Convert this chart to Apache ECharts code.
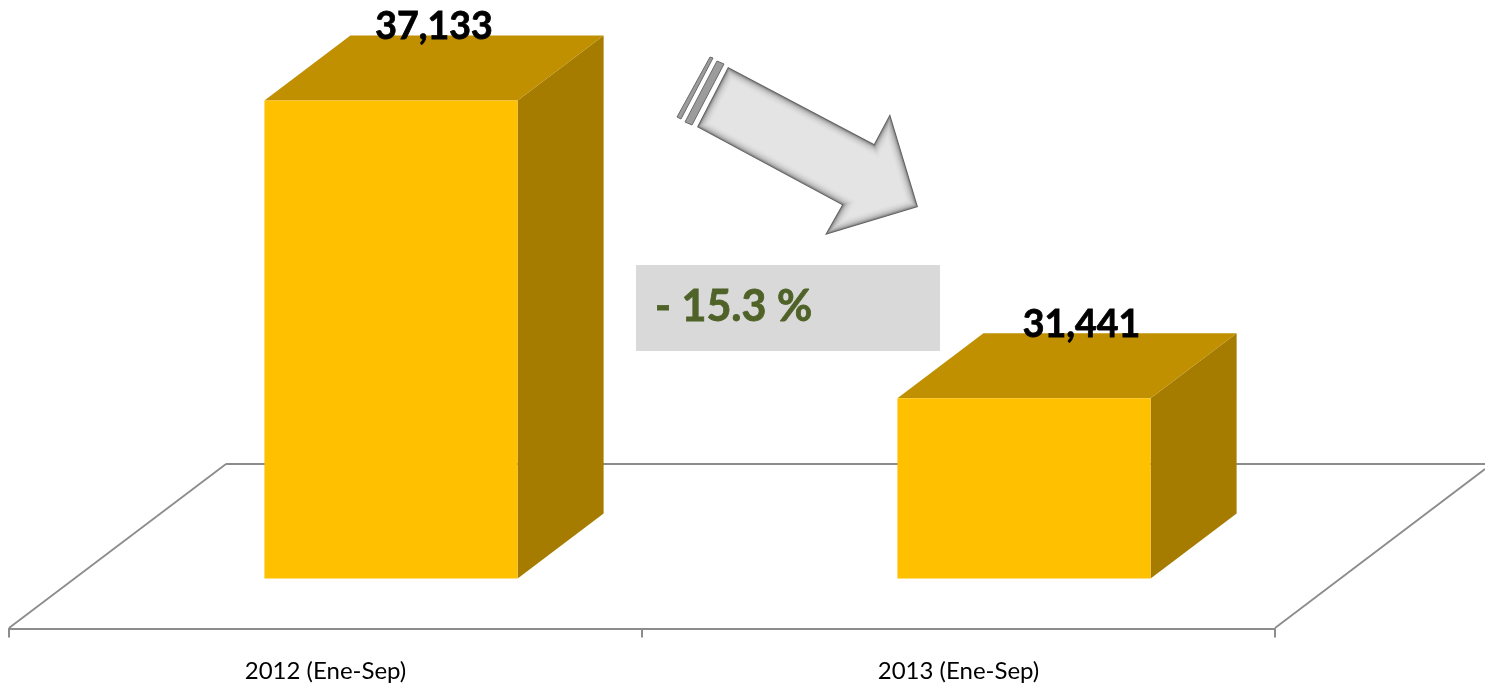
<!DOCTYPE html>
<html><head><meta charset="utf-8">
<style>html,body{margin:0;padding:0;background:#fff}#c{width:1485px;height:684px}</style>
<script src="https://cdn.jsdelivr.net/npm/echarts@6/dist/echarts.min.js"></script>
</head><body><div id="c"></div>
<script>
const categories = ['2012 (Ene-Sep)', '2013 (Ene-Sep)'];
const values = [37133, 31441];
const changeLabel = '- 15.3 %';
const yMin = 28000, yMax = 38000;

const DEPTH_X = 86, DEPTH_Y = 65;
const AXIS_COLOR = '#8c8c8c';

const chart = echarts.init(document.getElementById('c'), null, {renderer: 'canvas'});

function renderBar(params, api) {
  const cat = api.value(0), val = api.value(1);
  const top = api.coord([cat, val]);
  const base = api.coord([cat, yMin]);
  const band = api.size([1, 0])[0];
  const w = band * 0.4;
  const cx = top[0] + band * 0.1035;
  const l = cx - w / 2, r = cx + w / 2, t = top[1], b = base[1];
  const dx = DEPTH_X, dy = DEPTH_Y;
  const labelShift = params.dataIndex === 1 ? 14.5 : 0;
  return {type: 'group', children: [
    {type: 'polygon', shape: {points: [[r, t], [r + dx, t - dy], [r + dx, b - dy], [r, b]]}, style: {fill: '#a67c00'}},
    {type: 'polygon', shape: {points: [[l, t], [l + dx, t - dy], [r + dx, t - dy], [r, t]]}, style: {fill: '#c09000'}},
    {type: 'rect', shape: {x: l, y: t, width: w, height: b - t}, style: {fill: '#ffc000'}},
    {type: 'text', style: {
      text: val.toLocaleString('en-US'), x: cx + dx / 2 + labelShift, y: t - dy - 8,
      align: 'center', verticalAlign: 'middle', fill: '#000',
      stroke: '#000', lineWidth: 0.8,
      font: 'bold 37.5px Lato'
    }, z2: 10}
  ]};
}

// Inset outline of a closed polygon, used for the bevelled arrow
function inset(pts, d) {
  const n = pts.length;
  let area = 0;
  pts.forEach((p, i) => { const q = pts[(i + 1) % n]; area += p[0] * q[1] - q[0] * p[1]; });
  const s = area > 0 ? 1 : -1;
  return pts.map((p, i) => {
    const a = pts[(i + n - 1) % n], c = pts[(i + 1) % n];
    const u = [p[0] - a[0], p[1] - a[1]], v = [c[0] - p[0], c[1] - p[1]];
    const lu = Math.hypot(u[0], u[1]), lv = Math.hypot(v[0], v[1]);
    const n1 = [-u[1] / lu * s, u[0] / lu * s], n2 = [-v[1] / lv * s, v[0] / lv * s];
    const k = 1 + n1[0] * n2[0] + n1[1] * n2[1];
    return [p[0] + d * (n1[0] + n2[0]) / k, p[1] + d * (n1[1] + n2[1]) / k];
  });
}

const arrow = [[728,67],[874,144],[890,114],[918,207],[825,235],[842,205],[697,127]];
const bevel = ['#5e5e5e','#8a8a8a','#a6a6a6','#b6b6b6','#c2c2c2','#cbcbcb','#d2d2d2','#d8d8d8','#dcdcdc','#e0e0e0','#e2e2e2','#e4e4e4'];
const arrowLayers = bevel.map((col, i) => ({
  type: 'polygon', z: 5, shape: {points: inset(arrow, i * 0.9)}, style: {fill: col}
}));

const floor = [
  [[9,628],[226,464]],
  [[226,464],[1485,464]],
  [[1275,628],[1485,469]]
].map(p => ({type: 'polyline', z: 0, shape: {points: p}, style: {stroke: AXIS_COLOR, lineWidth: 1.8, fill: null}}));

chart.setOption({
  backgroundColor: '#fff',
  animation: false,
  grid: {left: 9, width: 1266, top: 55, height: 523.5},
  xAxis: {
    type: 'category', data: categories, offset: 50,
    axisLine: {show: true, lineStyle: {color: AXIS_COLOR, width: 2}},
    axisTick: {show: true, alignWithLabel: false, length: 9, lineStyle: {color: AXIS_COLOR, width: 2}},
    axisLabel: {color: '#000', fontFamily: 'Lato', fontSize: 24, margin: 31},
    splitLine: {show: false}
  },
  yAxis: {type: 'value', min: yMin, max: yMax, show: false, splitLine: {show: false}},
  series: [{
    type: 'custom', renderItem: renderBar, clip: false, z: 2,
    encode: {x: 0, y: 1},
    data: categories.map((c, i) => [i, values[i]])
  }],
  graphic: {elements: [
    ...floor,
    {type: 'rect', z: 5, shape: {x: 636, y: 265, width: 304, height: 86}, style: {fill: '#d9d9d9'}},
    {type: 'text', z: 6, style: {text: changeLabel, x: 655, y: 307, verticalAlign: 'middle', fill: '#4f6228', stroke: '#4f6228', lineWidth: 0.8, font: 'bold 43px Lato'}},
    {type: 'polygon', z: 5, shape: {points: [[717,61],[724,64],[692,125],[685,122]]}, style: {fill: '#9c9c9c', stroke: '#6a6a6a', lineWidth: 1}},
    {type: 'polygon', z: 5, shape: {points: [[710,57],[713,58],[681,119],[677,117]]}, style: {fill: '#9c9c9c', stroke: '#6a6a6a', lineWidth: 1}},
    ...arrowLayers
  ]}
});
</script></body></html>
